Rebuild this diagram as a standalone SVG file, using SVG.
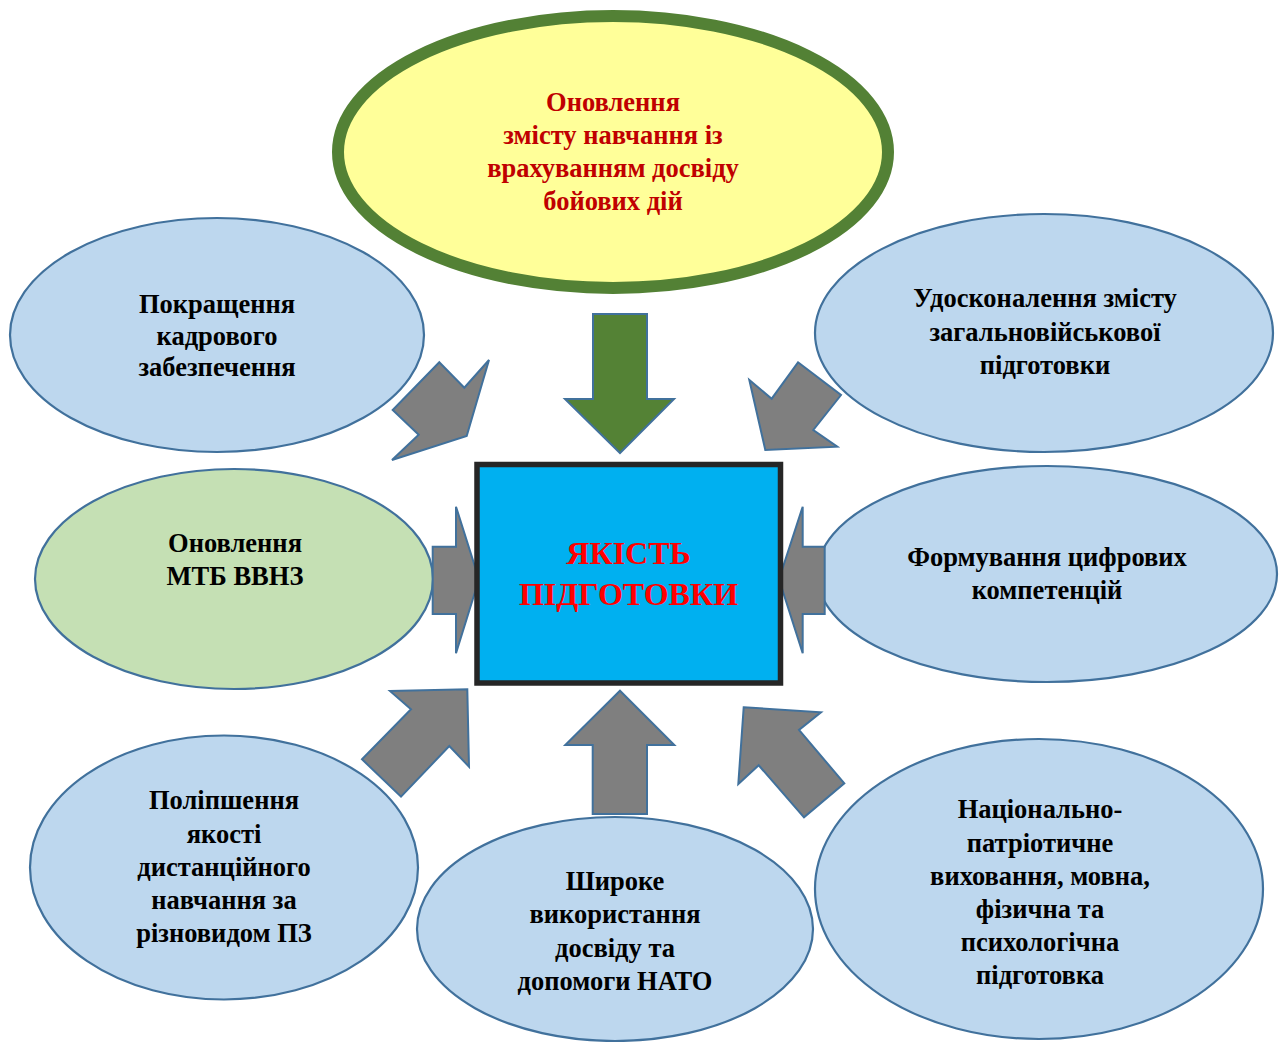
<svg xmlns="http://www.w3.org/2000/svg" width="1286" height="1042" viewBox="0 0 1286 1042">
<style>
.bg{fill:#ffffff}
.blue{fill:#BDD7EE;stroke:#41719C;stroke-width:2.2}
.green{fill:#C5E0B4;stroke:#41719C;stroke-width:2.2}
.top{fill:#FFFF99;stroke:#538135;stroke-width:12}
.arr{fill:#7F7F7F;stroke:#41719C;stroke-width:2;stroke-linejoin:miter}
.garr{fill:#548235;stroke:#41719C;stroke-width:2}
.box{fill:#00B0F0;stroke:#262626;stroke-width:5.5}
text{font-family:"Liberation Serif","Times New Roman",serif;font-weight:bold;font-size:26.5px;text-anchor:middle;fill:#000000}
.red{fill:#C00000}
.main{fill:#FF0000;font-size:32px}
</style>
<rect class="bg" x="0" y="0" width="1286" height="1042"/>

<g id="node-top">
<ellipse class="top" cx="613" cy="152" rx="275" ry="136"/>
<text class="red" x="613" y="111">Оновлення</text>
<text class="red" x="613" y="144">змісту навчання із</text>
<text class="red" x="613" y="177">врахуванням досвіду</text>
<text class="red" x="613" y="210">бойових дій</text>
</g>

<g id="node-kadry">
<ellipse class="blue" cx="217" cy="335" rx="207" ry="117"/>
<text x="217" y="313">Покращення</text>
<text x="217" y="345">кадрового</text>
<text x="217" y="376">забезпечення</text>
</g>

<g id="node-zagal">
<ellipse class="blue" cx="1044" cy="333" rx="229" ry="119"/>
<text x="1045" y="307">Удосконалення змісту</text>
<text x="1045" y="341">загальновійськової</text>
<text x="1045" y="374">підготовки</text>
</g>

<g id="node-mtb">
<ellipse class="green" cx="234" cy="579" rx="199" ry="110"/>
<text x="235" y="552">Оновлення</text>
<text x="235" y="585">МТБ ВВНЗ</text>
</g>

<g id="node-digital">
<ellipse class="blue" cx="1047" cy="574" rx="230" ry="108"/>
<text x="1047" y="566">Формування цифрових</text>
<text x="1047" y="599">компетенцій</text>
</g>

<g id="node-distance">
<ellipse class="blue" cx="224" cy="867.5" rx="194" ry="132"/>
<text x="224" y="809">Поліпшення</text>
<text x="224" y="843">якості</text>
<text x="224" y="876">дистанційного</text>
<text x="224" y="909">навчання за</text>
<text x="224" y="942">різновидом ПЗ</text>
</g>

<g id="node-nato">
<ellipse class="blue" cx="615" cy="929" rx="198" ry="112"/>
<text x="615" y="890">Широке</text>
<text x="615" y="923">використання</text>
<text x="615" y="957">досвіду та</text>
<text x="615" y="990">допомоги НАТО</text>
</g>

<g id="node-patriot">
<ellipse class="blue" cx="1039" cy="889" rx="224" ry="150"/>
<text x="1040" y="818">Національно-</text>
<text x="1040" y="852">патріотичне</text>
<text x="1040" y="885">виховання, мовна,</text>
<text x="1040" y="918">фізична та</text>
<text x="1040" y="951">психологічна</text>
<text x="1040" y="984">підготовка</text>
</g>

<g id="connectors">
<polygon class="garr" points="593,314 647,314 647,399 674,399 620,453 565,399 593,399"/>
<polygon class="arr" points="439.3,362.3 464.3,387.7 489,360 466.7,436 392,460 418.7,434.7 392.7,410"/>
<polygon class="arr" points="798,362.3 841,395 813.3,430 837.3,446.7 765.3,450 749.3,380 771.7,398.7"/>
<polygon class="arr" points="432.7,546.7 456,546.7 456,506.7 479,579.3 456,653.3 456,614 432.7,614"/>
<polygon class="arr" points="824.7,546.7 802.7,546.7 802.7,506.7 779,579.3 802.7,653.3 802.7,614 824.7,614"/>
<polygon class="arr" points="390,691 467.3,689.3 469,766.7 449.3,746 401,796.7 362,759.3 411,709.3"/>
<polygon class="arr" points="620,690.7 674.3,745 647,745 647,814 592.7,814 592.7,745 565.3,745"/>
<polygon class="arr" points="743.7,707.3 821,712.3 799,730 844.3,783.3 804,817.3 758.7,765.3 738.3,784"/>
</g>

<g id="node-center">
<rect class="box" x="477" y="464.5" width="303.5" height="218.5"/>
<text class="main" x="628.5" y="564">ЯКІСТЬ</text>
<text class="main" x="628.5" y="605">ПІДГОТОВКИ</text>
</g>
</svg>
